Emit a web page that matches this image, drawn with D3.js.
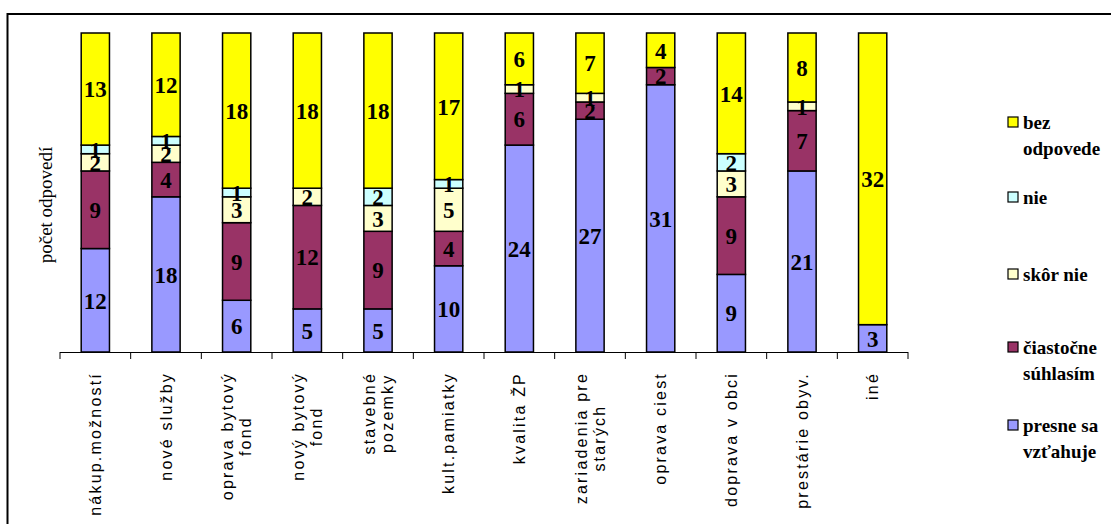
<!DOCTYPE html>
<html><head><meta charset="utf-8">
<script src="https://cdn.jsdelivr.net/npm/d3@7"></script>
<style>body{margin:0;background:#fff}svg{display:block}</style>
</head><body>
<svg id="c" width="1111" height="524"></svg>
<script>
const categories = [
  ["nákup.možností"],
  ["nové služby"],
  ["oprava bytový", "fond"],
  ["nový bytový", "fond"],
  ["stavebné", "pozemky"],
  ["kult.pamiatky"],
  ["kvalita ŽP"],
  ["zariadenia pre", "starých"],
  ["oprava ciest"],
  ["doprava v obci"],
  ["prestárie obyv."],
  ["iné"]
];
const seriesNames = ["presne sa vzťahuje", "čiastočne súhlasím", "skôr nie", "nie", "bez odpovede"];
const legendLines = [["presne sa", "vzťahuje"], ["čiastočne", "súhlasím"], ["skôr nie"], ["nie"], ["bez", "odpovede"]];
const presne     = [12, 18, 6, 5, 5, 10, 24, 27, 31, 9, 21, 3];
const ciastocne  = [9, 4, 9, 12, 9, 4, 6, 2, 2, 9, 7, 0];
const skorNie    = [2, 2, 3, 2, 3, 5, 1, 1, 0, 3, 1, 0];
const nie        = [1, 1, 1, 0, 2, 1, 0, 0, 0, 2, 0, 0];
const bezOdpovede= [13, 12, 18, 18, 18, 17, 6, 7, 4, 14, 8, 32];
const colors = ["#9999FF", "#993366", "#FFFFCC", "#CCFFFF", "#FFFF00"];
const yTitle = "počet odpovedí";

const series = [presne, ciastocne, skorNie, nie, bezOdpovede];
const svg = d3.select("#c");

// frame
svg.append("rect").attr("x", 7.5).attr("y", 14).attr("width", 1120).attr("height", 530)
  .attr("fill", "none").attr("stroke", "#000").attr("stroke-width", 2);

const x = d3.scaleBand().domain(d3.range(categories.length)).range([60, 908])
  .paddingInner(0.6).paddingOuter(0.3);
const y = d3.scaleLinear().domain([0, 1]).range([352, 33]);

const data = categories.map((c, i) => {
  const vals = series.map(s => s[i]);
  const total = d3.sum(vals);
  let cum = 0;
  return vals.map((v, k) => { const o = {i, k, v, y0: cum / total, y1: (cum + v) / total}; cum += v; return o; });
});

const segs = data.flat().filter(d => d.v > 0);
svg.append("g").selectAll("rect").data(segs).join("rect")
  .attr("x", d => x(d.i)).attr("width", x.bandwidth())
  .attr("y", d => y(d.y1)).attr("height", d => y(d.y0) - y(d.y1))
  .attr("fill", d => colors[d.k]).attr("stroke", "#000").attr("stroke-width", 1.5);

svg.append("g").selectAll("text").data(segs).join("text")
  .attr("x", d => x(d.i) + x.bandwidth() / 2)
  .attr("y", d => (y(d.y0) + y(d.y1)) / 2)
  .attr("dy", "0.36em").attr("text-anchor", "middle")
  .attr("font-family", "Liberation Serif").attr("font-weight", "bold").attr("font-size", 23)
  .text(d => d.v);

// x axis
const step = x.step();
const ticks = d3.range(categories.length + 1).map(i => 60 + i * step);
svg.append("line").attr("x1", 60).attr("x2", 908).attr("y1", 352.5).attr("y2", 352.5)
  .attr("stroke", "#000").attr("stroke-width", 1.2);
svg.append("g").selectAll("line").data(ticks).join("line")
  .attr("x1", d => d).attr("x2", d => d).attr("y1", 352).attr("y2", 359)
  .attr("stroke", "#000").attr("stroke-width", 1);

// category labels
const labG = svg.append("g").attr("font-family", "Liberation Sans").attr("font-size", 16)
  .attr("letter-spacing", 2.2);
categories.forEach((lines, i) => {
  const cx = x(i) + x.bandwidth() / 2;
  const g = labG.append("g").attr("transform", `translate(${cx},372) rotate(-90)`);
  const n = lines.length;
  const ts = lines.map((t, j) => g.append("text").attr("text-anchor", "middle")
    .attr("y", (j - (n - 1) / 2) * 18).attr("dy", "0.35em").text(t));
  const W = d3.max(ts, t => t.node().getComputedTextLength());
  ts.forEach(t => t.attr("x", -W / 2));
});

// y title
svg.append("text").attr("transform", "translate(45,205) rotate(-90)")
  .attr("text-anchor", "middle").attr("dy", "0.35em")
  .attr("font-family", "Liberation Serif").attr("font-size", 19).text(yTitle);

// legend (top to bottom: bez odpovede ... presne)
const legY = [122, 197, 274, 347, 425];
const order = [4, 3, 2, 1, 0];
const lg = svg.append("g").attr("font-family", "Liberation Serif").attr("font-weight", "bold").attr("font-size", 19);
order.forEach((k, r) => {
  lg.append("rect").attr("x", 1008).attr("y", legY[r] - 5).attr("width", 10).attr("height", 10)
    .attr("fill", colors[k]).attr("stroke", "#000").attr("stroke-width", 1.2);
  legendLines[k].forEach((t, j) => {
    lg.append("text").attr("x", 1023).attr("y", legY[r] + j * 26).attr("dy", "0.35em").text(t);
  });
});
</script>
</body></html>
